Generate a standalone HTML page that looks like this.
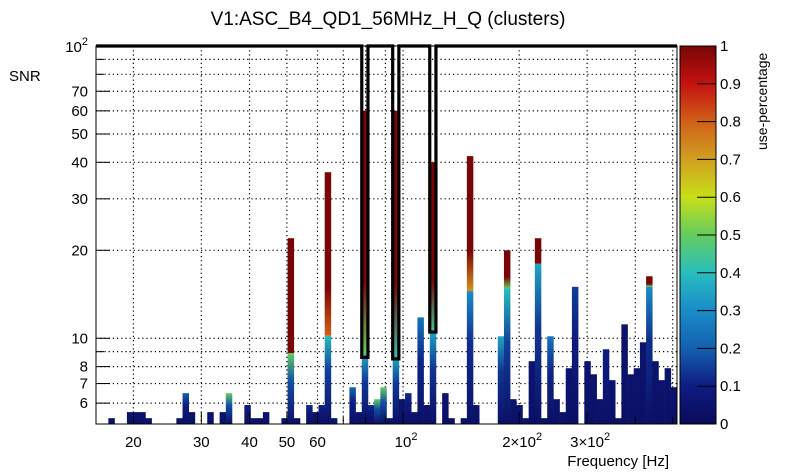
<!DOCTYPE html>
<html><head><meta charset="utf-8"><style>
body{margin:0;background:#fff;}
svg{display:block;font-family:"Liberation Sans",sans-serif;}
</style></head><body>
<svg id="c" width="805" height="472" viewBox="0 0 805 472">
<text x="388" y="25" text-anchor="middle" font-size="19">V1:ASC_B4_QD1_56MHz_H_Q (clusters)</text>
<text x="9" y="81" font-size="15">SNR</text>
<text x="669" y="466" text-anchor="end" font-size="15">Frequency [Hz]</text>
<text transform="translate(767,150) rotate(-90)" font-size="14">use-percentage</text>
<g id="grid"></g><g id="bars"></g><g id="clus"></g><g id="axes"></g><g id="cbar"></g>
</svg>
<script>
const NB = 94, FMIN = 16, FMAX = 513, YMIN = 5.09, YMAX = 100;
const snr = new Array(94).fill(0);
const useTop = new Array(94).fill(0.05);
const redFrom = new Array(94).fill(0);
const redBase = new Array(94).fill(1);
const binVals = [[2,5.33],[5,5.59],[6,5.59],[7,5.59],[8,5.33],[13,5.33],[14,6.49],[15,5.59],[18,5.59],[20,5.59],[21,6.49],
[24,5.91],[25,5.33],[26,5.33],[27,5.59],[30,5.33],[31,22],[32,5.33],[34,5.91],[35,5.59],[36,5.91],[37,37],[38,5.33],
[41,6.8],[42,5.59],[43,60],[44,5.91],[45,6.19],[46,6.8],[47,5.33],[48,60],[49,6.19],[50,6.49],[51,5.59],[52,11.79],[53,5.91],[54,40],
[56,6.49],[57,5.33],[59,5.33],[60,42],[61,5.91],[65,10.16],[66,20],[67,6.19],[68,5.91],[69,5.33],[70,8.35],[71,22],[72,5.33],
[73,10.16],[74,6.19],[75,5.59],[76,7.9],[77,15],[79,8.35],[80,7.53],[81,6.19],[82,9.17],[83,7.19],[84,5.33],[85,11.16],
[86,7.53],[87,7.9],[88,9.69],[89,16.3],[90,8.35],[91,7.19],[92,7.9],[93,6.8]];
const useVals = [[14,0.2],[21,0.5],[41,0.22],[45,0.5],[46,0.5],[52,0.25],[65,0.35],[73,0.25],[77,0.15],[89,0.3],[50,0.12],[82,0.1],
[31,0.5],[37,0.4],[43,0.35],[48,0.35],[54,0.35],[60,0.3],[66,0.4],[71,0.35],[24,0.1],[34,0.12],[36,0.1],[44,0.12]];
const redVals = [[31,8.9,1],[37,10.2,0.8],[43,8.8,0.5],[48,8.6,0.42],[54,10.6,0.45],[60,14.5,0.72],[66,14.8,0.5],[71,18,1],[89,15,0.5]];
const clusterBins = [43,48,54];
const clusterMin = [8.6,8.5,10.5];
const yTicks = [6,7,8,9,10,20,30,40,50,60,70,80,90,100];
const yLabels = ["6","7","8","","10","20","30","40","50","60","70","","",""];
const xTicks = [20,30,40,50,60,70,80,90,100,200,300,400,500];
const xLabels = ["20","30","40","50","60","","","","1","2","3","",""];
const cbTicks = [0,0.1,0.2,0.3,0.4,0.5,0.6,0.7,0.8,0.9,1];
binVals.forEach(([k,v])=>snr[k]=v);
useVals.forEach(([k,v])=>useTop[k]=v);
redVals.forEach(([k,r,b])=>{redFrom[k]=r;redBase[k]=b;});

const L=96,R=677,T=46,B=424;
const lf=Math.log10;
const X=f=>L+(lf(f)-lf(FMIN))/(lf(FMAX)-lf(FMIN))*(R-L);
const Y=v=>B-(lf(v)-lf(YMIN))/(lf(YMAX)-lf(YMIN))*(B-T);
const edge=k=>FMIN*Math.pow(FMAX/FMIN,k/NB);
const NS="http://www.w3.org/2000/svg";
function mk(tag,attrs,parent){const e=document.createElementNS(NS,tag);for(const a in attrs)e.setAttribute(a,attrs[a]);parent.appendChild(e);return e;}
const stops=[[0,[10,10,90]],[0.1,[14,28,128]],[0.2,[20,96,176]],[0.3,[26,140,200]],[0.4,[40,190,190]],[0.5,[100,204,96]],
[0.6,[200,222,24]],[0.7,[208,160,32]],[0.8,[208,96,24]],[0.9,[196,18,16]],[1,[120,6,6]]];
function col(u){u=Math.max(0,Math.min(1,u));for(let i=1;i<stops.length;i++){if(u<=stops[i][0]){const a=stops[i-1],b=stops[i],t=(u-a[0])/(b[0]-a[0]);
return 'rgb('+a[1].map((c,j)=>Math.round(c+(b[1][j]-c)*t)).join(',')+')';}}return 'rgb(120,6,6)';}
const svg=document.getElementById('c');
const defs=mk('defs',{},svg);
const grid=document.getElementById('grid');
yTicks.forEach(v=>{const l=mk('line',{x1:L,x2:R,y1:Y(v),y2:Y(v),stroke:'#000','stroke-dasharray':'1.2,3','stroke-width':1.2},grid);

});
xTicks.forEach(f=>{const l=mk('line',{x1:X(f),x2:X(f),y1:T,y2:B,stroke:'#000','stroke-dasharray':'1.2,3','stroke-width':1.2},grid);

});
const bars=document.getElementById('bars');
for(let k=0;k<NB;k++){
 if(snr[k]<=YMIN)continue;
 const x0=X(edge(k)),x1=X(edge(k+1));
 const top=Math.min(snr[k],YMAX);
 const lowTop=redFrom[k]>0?redFrom[k]:top;
 const g=mk('linearGradient',{id:'g'+k,x1:0,y1:1,x2:0,y2:0},defs);
 mk('stop',{offset:0,'stop-color':col(0.03)},g);
 mk('stop',{offset:0.6,'stop-color':col(Math.min(useTop[k],0.05+useTop[k]*0.25))},g);
 mk('stop',{offset:1,'stop-color':col(useTop[k])},g);
 const r=mk('rect',{x:x0,y:Y(lowTop),width:x1-x0+0.3,height:B-Y(lowTop),fill:'url(#g'+k+')'},bars);
 
 
 if(redFrom[k]>0){
  const g2=mk('linearGradient',{id:'h'+k,x1:0,y1:1,x2:0,y2:0},defs);
  mk('stop',{offset:0,'stop-color':col(redBase[k])},g2);
  mk('stop',{offset:0.3,'stop-color':col(1)},g2);
  mk('stop',{offset:1,'stop-color':col(1)},g2);
  const r2=mk('rect',{x:x0,y:Y(top),width:x1-x0+0.3,height:Y(redFrom[k])-Y(top),fill:'url(#h'+k+')'},bars);
  
  
 }
}
const clus=document.getElementById('clus');
let d='M'+L+','+T;
clusterBins.forEach((k,i)=>{const a=X(edge(k)),b=X(edge(k+1)),yb=Y(clusterMin[i]);
 d+=' H'+a+' V'+yb+' H'+b+' V'+T;});
d+=' H'+R;
const p=mk('path',{d:d,fill:'none',stroke:'#000','stroke-width':3.2},clus);


const ax=document.getElementById('axes');
const fr=mk('rect',{x:L,y:T,width:R-L,height:B-T,fill:'none',stroke:'#000','stroke-width':1},ax);


yTicks.forEach((v,i)=>{
 const t=mk('line',{x1:L,x2:L+(yLabels[i]||v==100?14:8),y1:Y(v),y2:Y(v),stroke:'#000','stroke-width':1},ax);
 
 
 if(yLabels[i]){const tx=mk('text',{x:L-8,y:Y(v)+5,'text-anchor':'end','font-size':15},ax);tx.textContent=yLabels[i];
  
  }
});
const y100=mk('text',{x:L-8,y:Y(100)+6,'text-anchor':'end','font-size':15},ax);
y100.innerHTML='10<tspan dy="-7" font-size="11">2</tspan>';


xTicks.forEach((f,i)=>{
 const t=mk('line',{x1:X(f),x2:X(f),y1:B,y2:B-(xLabels[i]?12:7),stroke:'#000','stroke-width':1},ax);
 
 
 if(xLabels[i]){const tx=mk('text',{x:X(f),y:B+23,'text-anchor':'middle','font-size':15},ax);
  if(f>=100){tx.innerHTML=(f==100?'10':xLabels[i]+'×10')+'<tspan dy="-7" font-size="11">2</tspan>';tx.setAttribute('x',X(f)+3);}
  else tx.textContent=xLabels[i];
  
  }
});
const cb=document.getElementById('cbar');
const cg=mk('linearGradient',{id:'cbg',x1:0,y1:1,x2:0,y2:0},defs);
for(let i=0;i<=20;i++){mk('stop',{offset:i/20,'stop-color':col(i/20)},cg);}
const CL=680,CR=716;
const cr=mk('rect',{x:CL,y:T,width:CR-CL,height:B-T,fill:'url(#cbg)',stroke:'#000','stroke-width':1},cb);


cbTicks.forEach(u=>{const y=B-u*(B-T);
 const t=mk('line',{x1:CR-19,x2:CR,y1:y,y2:y,stroke:'#000','stroke-width':1},cb);
 
 
 const tx=mk('text',{x:CR+4,y:y+5,'font-size':15},cb);tx.textContent=String(u);
 
 });
</script>
</body></html>
